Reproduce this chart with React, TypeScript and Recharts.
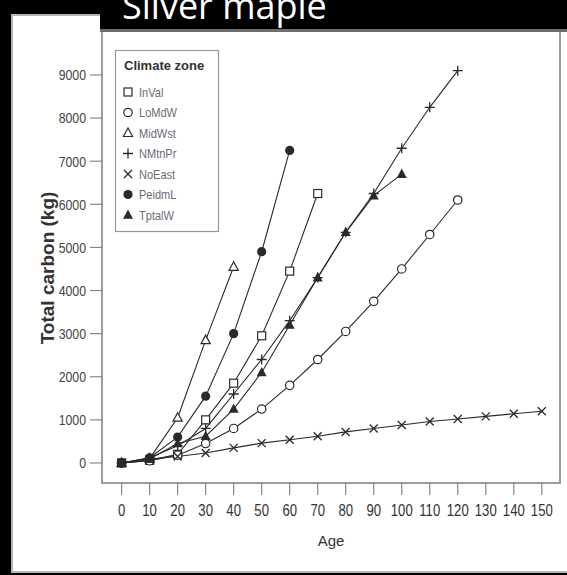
import { LineChart, Line, XAxis, YAxis, ReferenceArea } from "recharts";

// ages (x categories) and carbon values (kg) per climate zone
const ages = [0, 10, 20, 30, 40, 50, 60, 70, 80, 90, 100, 110, 120, 130, 140, 150];
const inVal = [0, 60, 200, 1000, 1850, 2950, 4450, 6250];
const loMdW = [0, 50, 180, 450, 800, 1250, 1800, 2400, 3050, 3750, 4500, 5300, 6100];
const midWst = [0, 100, 1050, 2850, 4550];
const nMtnPr = [0, 120, 400, 800, 1600, 2400, 3300, 4300, 5350, 6250, 7300, 8250, 9100];
const noEast = [0, 90, 150, 230, 350, 460, 540, 620, 720, 800, 880, 960, 1020, 1080, 1140, 1200];
const peidmL = [0, 120, 600, 1550, 3000, 4900, 7250];
const tptalW = [0, 90, 450, 620, 1250, 2100, 3200, 4300, 5350, 6200, 6700];
const yTicks = [0, 1000, 2000, 3000, 4000, 5000, 6000, 7000, 8000, 9000];

const series = [
  { key: "InVal", values: inVal, shape: "square" },
  { key: "LoMdW", values: loMdW, shape: "circle" },
  { key: "MidWst", values: midWst, shape: "triangle" },
  { key: "NMtnPr", values: nMtnPr, shape: "plus" },
  { key: "NoEast", values: noEast, shape: "cross" },
  { key: "PeidmL", values: peidmL, shape: "dot" },
  { key: "TptalW", values: tptalW, shape: "filledTriangle" },
];

const data = ages.map((age, i) => {
  const row: Record<string, number | null> = { age };
  series.forEach((s) => {
    row[s.key] = i < s.values.length ? s.values[i] : null;
  });
  return row;
});

const INK = "#2a2a2a";
const FONT = "'Liberation Sans', Arial, sans-serif";

const Marker = ({ cx, cy, shape }: { cx: number; cy: number; shape: string }) => {
  if (cx == null || cy == null) return null;
  switch (shape) {
    case "square":
      return <rect x={cx - 4} y={cy - 4} width={8} height={8} fill="#fff" stroke={INK} strokeWidth={1.2} />;
    case "circle":
      return <circle cx={cx} cy={cy} r={4.2} fill="#fff" stroke={INK} strokeWidth={1.2} />;
    case "triangle":
      return (
        <polygon
          points={`${cx},${cy - 5} ${cx - 4.6},${cy + 3.5} ${cx + 4.6},${cy + 3.5}`}
          fill="#fff"
          stroke={INK}
          strokeWidth={1.2}
        />
      );
    case "plus":
      return (
        <path d={`M${cx - 5},${cy}H${cx + 5}M${cx},${cy - 5}V${cy + 5}`} stroke={INK} strokeWidth={1.3} />
      );
    case "cross":
      return (
        <path
          d={`M${cx - 4},${cy - 4}L${cx + 4},${cy + 4}M${cx - 4},${cy + 4}L${cx + 4},${cy - 4}`}
          stroke={INK}
          strokeWidth={1.3}
        />
      );
    case "dot":
      return <circle cx={cx} cy={cy} r={4.6} fill={INK} />;
    default:
      return (
        <polygon points={`${cx},${cy - 5.5} ${cx - 5},${cy + 3.8} ${cx + 5},${cy + 3.8}`} fill={INK} />
      );
  }
};

const XTick = ({ x, y, payload }: any) => (
  <g transform={`translate(${x},${y}) scale(0.82,1)`}>
    <text x={0} y={0} dy="0.71em" textAnchor="middle" fontSize={16} fontFamily={FONT} fill="#333">
      {payload.value}
    </text>
  </g>
);

const YTick = ({ x, y, payload }: any) => (
  <g transform={`translate(${x},${y}) scale(0.82,1)`}>
    <text x={0} y={0} dy="0.355em" textAnchor="end" fontSize={15} fontFamily={FONT} fill="#444">
      {payload.value}
    </text>
  </g>
);

const YLabel = () => (
  <g transform="translate(54,268) rotate(-90)">
    <text x={0} y={0} textAnchor="middle" fontSize={19} fontWeight="bold" fontFamily={FONT} fill="#333">
      Total carbon (kg)
    </text>
  </g>
);

const Legend = () => (
  <svg width={567} height={575} style={{ position: "absolute", left: 0, top: 0, pointerEvents: "none" }}>
    <rect x={115.5} y={50.5} width={103} height={181} fill="#fff" stroke="#9a9a9a" strokeWidth={1.2} />
    <text x={124} y={70} fontSize={13} fontWeight="bold" fontFamily={FONT} fill="#333">
      Climate zone
    </text>
    {series.map((s, i) => {
      const yy = 92 + i * 20.5;
      return (
        <g key={s.key}>
          <Marker cx={128} cy={yy} shape={s.shape} />
          <g transform={`translate(139,${yy}) scale(0.85,1)`}>
            <text x={0} y={0} dy="0.355em" fontSize={13} fontFamily={FONT} fill="#6b6b78">
              {s.key}
            </text>
          </g>
        </g>
      );
    })}
  </svg>
);

const App = () => {
  return (
    <div style={{ position: "absolute", left: 0, top: 0, width: 567, height: 575, background: "#000", overflow: "hidden" }}>
      <div
        style={{
          position: "absolute",
          left: 11,
          top: 14,
          width: 570,
          height: 559,
          background: "#fff",
          border: "2px solid #b4b4b4",
          boxSizing: "border-box",
        }}
      />
      <div style={{ position: "absolute", left: 0, top: 0 }}>
        <LineChart width={567} height={575} data={data} margin={{ top: 31, right: 7, bottom: 0, left: 0 }}>
          <XAxis
            dataKey="age"
            type="number"
            domain={[-7, 156.5]}
            ticks={ages}
            interval={0}
            height={92}
            axisLine={false}
            tickSize={12}
            tickMargin={10}
            tickLine={{ stroke: "#888", strokeWidth: 1.2 }}
            tick={<XTick />}
            allowDataOverflow
            label={{ value: "Age", position: "insideTop", offset: 52, fontSize: 15, fontFamily: FONT, fill: "#333" }}
          />
          <YAxis
            type="number"
            domain={[-465, 10020]}
            ticks={yTicks}
            interval={0}
            width={102}
            axisLine={false}
            tickSize={12}
            tickMargin={4}
            tickLine={{ stroke: "#888", strokeWidth: 1.2 }}
            tick={<YTick />}
            allowDataOverflow
            label={{ content: () => <YLabel /> }}
          />
          <ReferenceArea
            x1={-7}
            x2={156.5}
            y1={-465}
            y2={10020}
            fill="none"
            stroke="#9c9c9c"
            strokeWidth={2}
            ifOverflow="visible"
          />
          {series.map((s) => (
            <Line
              key={s.key}
              dataKey={s.key}
              stroke={INK}
              strokeWidth={1.1}
              isAnimationActive={false}
              dot={(p: any) => <Marker key={`${s.key}-${p.index}`} cx={p.cx} cy={p.cy} shape={s.shape} />}
              activeDot={false}
            />
          ))}
        </LineChart>
      </div>
      <Legend />
      <div style={{ position: "absolute", left: 100, top: 0, width: 467, height: 29, background: "#000", borderBottom: "3px solid #6e6e6e" }}>
        <svg width={467} height={29}>
          <text x={22} y={19} fontSize={36} fontFamily="'Open Sans', sans-serif" fill="#fff">
            Silver maple
          </text>
        </svg>
      </div>
    </div>
  );
};

export default App;
